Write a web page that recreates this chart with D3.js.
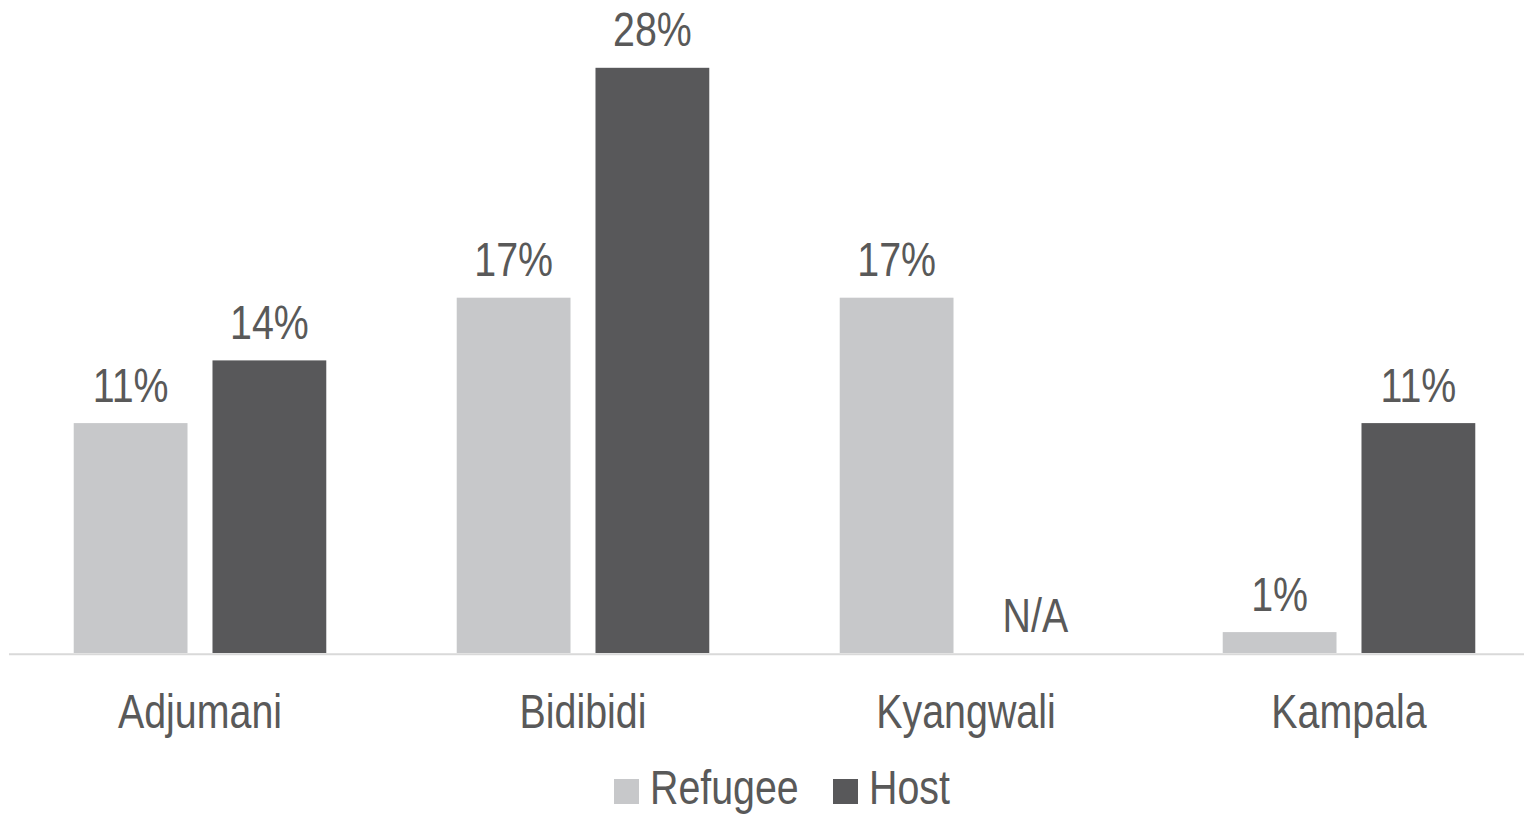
<!DOCTYPE html>
<html>
<head>
<meta charset="utf-8">
<script src="https://cdn.jsdelivr.net/npm/d3@7"></script>
<style>
  html, body { margin: 0; padding: 0; background: #ffffff; }
  svg { display: block; }
  text { font-family: "Liberation Sans", Arial, sans-serif; fill: #595959; }
</style>
</head>
<body>
<svg id="chart" width="1524" height="814"></svg>
<script>
// Sites and groups
const categories = ["Adjumani", "Bidibidi", "Kyangwali", "Kampala"];
const seriesNames = ["Refugee", "Host"];
const seriesColors = ["#c7c8ca", "#58585a"];
// Share per site; null = not available
const refugeeValues = [0.11, 0.17, 0.17, 0.01];
const hostValues = [0.14, 0.28, null, 0.11];
const missingLabel = "N/A";

const seriesValues = [refugeeValues, hostValues];
const rows = categories.map((c, i) => ({
  category: c,
  values: seriesNames.map((s, k) => ({ series: s, k, value: seriesValues[k][i] }))
}));

const svg = d3.select("#chart");
const baseY = 653;
const fontSize = 48;
const narrow = 0.82; // horizontal squeeze for a condensed face

const x0 = d3.scaleBand().domain(categories).range([8.5, 1540.5]).paddingInner(0).paddingOuter(0);
const x1 = d3.scaleBand().domain(seriesNames).range([0, x0.bandwidth()]).paddingInner(0.18).paddingOuter(0.47);
const y = d3.scaleLinear().domain([0, 0.30]).range([baseY, baseY - 627]);

const fmt = d3.format(".0%");
const place = (px, py) => `translate(${px},${py}) scale(${narrow},1)`;

const groups = svg.append("g").selectAll("g")
  .data(rows).join("g")
  .attr("transform", d => `translate(${x0(d.category)},0)`);

groups.selectAll("rect")
  .data(d => d.values.filter(v => v.value != null))
  .join("rect")
  .attr("x", d => x1(d.series))
  .attr("width", x1.bandwidth())
  .attr("y", d => y(d.value))
  .attr("height", d => y(0) - y(d.value))
  .attr("fill", d => seriesColors[d.k]);

groups.selectAll("text.value")
  .data(d => d.values)
  .join("text")
  .attr("class", "value")
  .attr("transform", d => place(x1(d.series) + x1.bandwidth() / 2,
                                (d.value == null ? y(0) : y(d.value)) - 21.5))
  .attr("text-anchor", "middle")
  .attr("font-size", fontSize)
  .text(d => d.value == null ? missingLabel : fmt(d.value));

// Category axis along the baseline
const axis = svg.append("g")
  .attr("transform", `translate(0,${baseY + 0.7})`)
  .call(d3.axisBottom(x0).tickSize(0).tickPadding(0));
axis.select(".domain").attr("stroke", "#d9d9d9").attr("stroke-width", 2);
axis.attr("font-family", null).attr("font-size", null);
axis.selectAll(".tick text")
  .attr("y", 0)
  .attr("dy", 0)
  .attr("transform", place(0, 74))
  .attr("font-size", fontSize)
  .style("fill", "#595959");

// Legend
const legendItems = [
  { name: seriesNames[0], color: seriesColors[0], x: 614 },
  { name: seriesNames[1], color: seriesColors[1], x: 833 }
];
const legend = svg.append("g").selectAll("g").data(legendItems).join("g")
  .attr("transform", d => `translate(${d.x},0)`);
legend.append("rect")
  .attr("x", 0).attr("y", 779).attr("width", 25).attr("height", 25)
  .attr("fill", d => d.color);
legend.append("text")
  .attr("transform", place(36, 804))
  .attr("font-size", fontSize)
  .text(d => d.name);
</script>
</body>
</html>
